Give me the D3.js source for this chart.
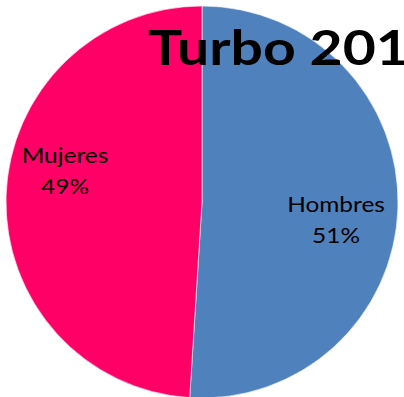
<!DOCTYPE html>
<html><head><meta charset="utf-8">
<script src="https://cdn.jsdelivr.net/npm/d3@7"></script>
<style>body{margin:0;background:#fff;overflow:hidden}svg{display:block}</style>
</head><body>
<script>
const categories = ["Hombres", "Mujeres"];
const values = [51, 49];
const labels = ["51%", "49%"];
const colors = ["#4F81BD", "#FF0066"];
const title = "Turbo 201";

const W = 404, H = 397;
const svg = d3.select("body").append("svg").attr("width", W).attr("height", H);
const cx = 202, cy = 202, r = 196;
const pie = d3.pie().sort(null).value(d => d.v);
const arcs = pie(categories.map((c, i) => ({c, v: values[i], l: labels[i], col: colors[i]})));
const arc = d3.arc().innerRadius(0).outerRadius(r);
const g = svg.append("g").attr("transform", `translate(${cx},${cy})`);
g.selectAll("path").data(arcs).join("path")
  .attr("d", arc).attr("fill", d => d.data.col)
  .attr("stroke", "#fff").attr("stroke-width", 0.6);

const labelPos = [[134, 10], [-137, -39]];
const fontFam = "Lato, 'Open Sans', sans-serif";
arcs.forEach((d, i) => {
  const t = g.append("text").attr("text-anchor", "middle")
    .attr("font-family", fontFam).attr("font-size", 22).attr("fill", "#000")
    .attr("transform", `translate(${labelPos[i][0]},${labelPos[i][1]}) scale(1.11,1)`);
  t.append("tspan").attr("x", 0).attr("y", 0).text(d.data.c);
  t.append("tspan").attr("x", 0).attr("y", 31).text(d.data.l);
});

svg.append("text").attr("transform", "translate(148,65) scale(1.19,1)")
  .attr("font-family", fontFam).attr("font-weight", "bold")
  .attr("font-size", 48).attr("fill", "#000").text(title);
</script>
</body></html>
